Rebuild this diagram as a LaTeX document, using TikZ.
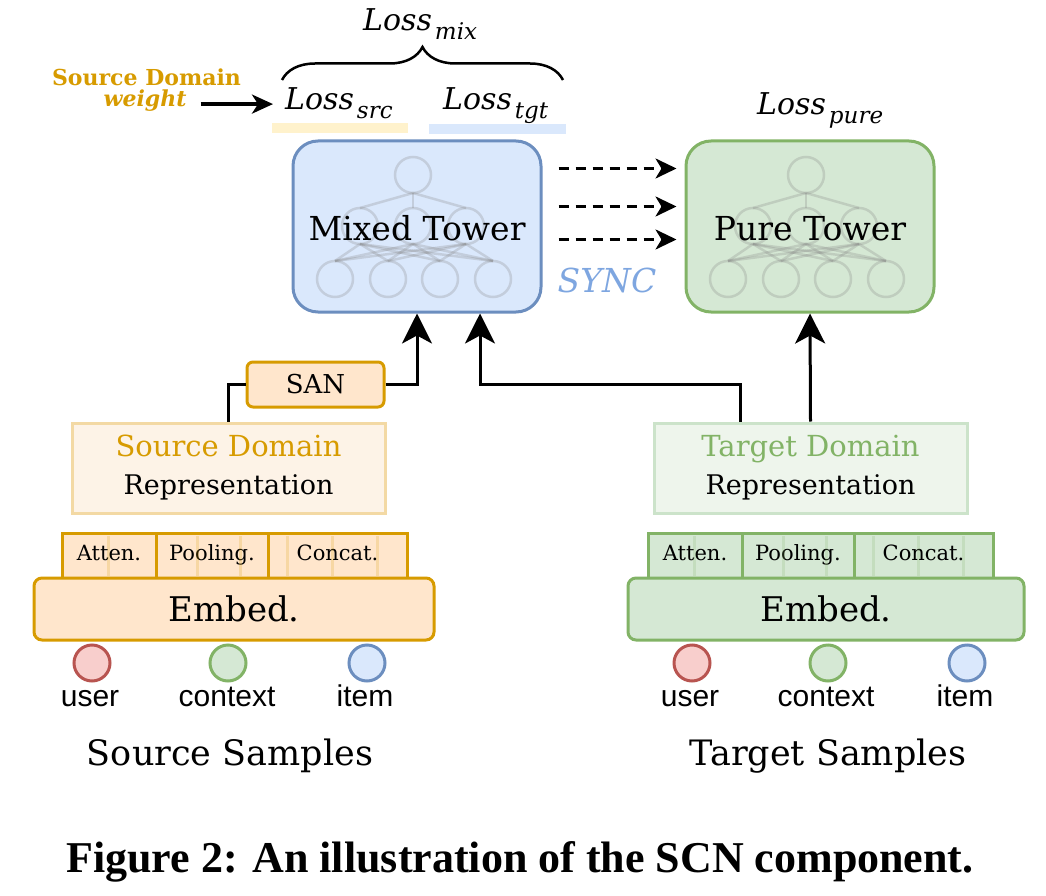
\documentclass[tikz,border=0pt]{standalone}
\usepackage{fontspec}
\setmainfont{DejaVu Serif}
\newfontfamily\sansfnt{Liberation Sans}
\newfontfamily\capfnt{Liberation Serif}
\usetikzlibrary{arrows.meta,decorations.pathreplacing,calc}
\definecolor{orgdraw}{HTML}{D79B00}
\definecolor{orgfill}{HTML}{FFE6CC}
\definecolor{grndraw}{HTML}{82B366}
\definecolor{grnfill}{HTML}{D5E8D4}
\definecolor{bluedraw}{HTML}{6C8EBF}
\definecolor{bluefill}{HTML}{DAE8FC}
\definecolor{reddraw}{HTML}{B85450}
\definecolor{redfill}{HTML}{F8CECC}
\definecolor{yelfill}{HTML}{FFF2CC}
\definecolor{syncblue}{HTML}{7EA6E0}
\definecolor{srcrepfill}{HTML}{FDF3E7}
\definecolor{srcrepdraw}{HTML}{F3D9A4}
\definecolor{tgtrepfill}{HTML}{EEF5EC}
\definecolor{tgtrepdraw}{HTML}{CCE3CA}
\newcommand\myfs[1]{\fontsize{#1}{#1}\selectfont}
\newcommand\myloss[1]{{\myfs{30}\itshape Loss}\kern3pt\raisebox{-9pt}{\myfs{23}\itshape #1}}
\newcommand\nnicon[2]{%
  \begin{scope}[shift={(#1,#2)}, nnline]
    \draw (120,34) circle[radius=18pt];
    \foreach \mx in {67,120,173} {
      \draw (\mx,85) circle[radius=18pt];
      \draw (120,52) -- (\mx,67);
      \foreach \bx in {42,95,147,200} { \draw (\mx,103) -- (\bx,120); }
    }
    \foreach \bx in {42,95,147,200} { \draw (\bx,138) circle[radius=18pt]; }
  \end{scope}}
\begin{document}
\begin{tikzpicture}[x=1pt,y=-1pt,
  nnline/.style={draw=gray, opacity=0.25, line width=2.5pt},
  tower/.style={rounded corners=25pt, line width=3pt, minimum width=248pt, minimum height=171pt, inner sep=0pt},
  towertext/.style={font=\myfs{33}, inner sep=0pt},
  repbox/.style={line width=3pt, minimum width=313pt, minimum height=90pt, align=center, inner sep=0pt, font=\fontsize{27}{38}\selectfont},
  subbox/.style={line width=3pt, minimum height=45pt, inner sep=0pt, font=\myfs{21}, text height=15pt, text depth=5pt},
  embedbox/.style={rounded corners=8pt, line width=3pt, minimum height=62pt, inner sep=0pt, font=\myfs{34}},
  circ/.style={circle, minimum size=36pt, inner sep=0pt, line width=3pt},
  samplelbl/.style={anchor=base, inner sep=0pt, font=\sansfnt\myfs{30}},
  titlelbl/.style={anchor=base, inner sep=0pt, font=\myfs{35}},
  faintorg/.style={draw=orgdraw, opacity=0.2, line width=3pt},
  faintgrn/.style={draw=grndraw, opacity=0.2, line width=3pt},
  conn/.style={line width=3pt},
  arr/.style={line width=3pt, -{Stealth[length=30pt,width=30pt,inset=8pt]}},
  dasharr/.style={line width=3pt, dash pattern=on 10pt off 7pt, -{Stealth[length=21pt,width=20pt,inset=6pt]}},
  warr/.style={line width=3.5pt, -{Stealth[length=21pt,width=19pt,inset=6pt]}},
  bar/.style={minimum height=10pt, inner sep=0pt}
  ]
\useasboundingbox (0,0) rectangle (1046,896);

% towers
\node[tower, fill=bluefill, draw=bluedraw] (mixed) at (417,226.5) {};
\node[tower, fill=grnfill, draw=grndraw] (pure) at (810,226.5) {};
\nnicon{293}{141}
\nnicon{686}{141}
\node[towertext] (mixedlbl) at ([yshift=-2pt]mixed.center) {Mixed Tower};
\node[towertext] (purelbl) at ([yshift=-2pt]pure.center) {Pure Tower};

% losses
\node[bar, fill=yelfill, minimum width=136pt] (barsrc) at (340,128) {};
\node[bar, fill=bluefill, minimum width=137pt] (bartgt) at (497.5,129) {};
\node[anchor=base west, inner sep=0pt] (lsrc) at (285,110) {\myloss{src}};
\node[anchor=base west, inner sep=0pt] (ltgt) at (443,110) {\myloss{tgt}};
\node[anchor=base west, inner sep=0pt] (lmix) at (363,31) {\myloss{mix}};
\node[anchor=base west, inner sep=0pt] (lpure) at (757,115) {\myloss{pure}};
\coordinate (brl) at (282,80);
\coordinate (brr) at (563,80);
\draw[decorate, decoration={brace, amplitude=33pt}, line width=2.5pt] (brl) -- (brr);

% source domain weight
\node[anchor=base, inner sep=0pt, font=\myfs{22}\bfseries, text=orgdraw] (sdlbl) at (146.5,86) {Source Domain};
\node[anchor=base, inner sep=0pt, font=\myfs{22}\bfseries\itshape, text=orgdraw] (wlbl) at (145,107) {weight};
\draw[warr] ([xshift=14pt,yshift=-3pt]wlbl.east) -- ([xshift=-12pt,yshift=-3pt]wlbl.east -| lsrc.west);

% sync
\foreach \dy in {29,67,100}
  \draw[dasharr] ([shift={(16pt,-\dy pt)}]mixed.north east) -- ([shift={(-8pt,-\dy pt)}]pure.north west);
\node[anchor=base, inner sep=0pt, font=\myfs{33}\itshape, text=syncblue] (sync) at (607,292) {SYNC};

% SAN
\node[rounded corners=6pt, line width=3pt, fill=orgfill, draw=orgdraw, minimum width=137pt, minimum height=45pt, inner sep=0pt, font=\myfs{26}] (san) at (315.5,384.5) {SAN};

% representations
\node[repbox, fill=srcrepfill, draw=srcrepdraw] (srcrep) at (228.5,468) {{\myfs{29}\color{orgdraw}Source Domain}\\Representation};
\node[repbox, fill=tgtrepfill, draw=tgtrepdraw] (tgtrep) at (810.5,468) {{\myfs{29}\color{grndraw}Target Domain}\\Representation};

% connectors
\coordinate (mixin2) at ([xshift=63pt]mixed.south);
\coordinate (tgtout) at ([xshift=-70.5pt]tgtrep.north);
\draw[conn] (srcrep.north) |- (san.west);
\draw[arr] (san.east) -| (mixed.south);
\draw[arr] (tgtout) |- (san.west -| mixin2) -- (mixin2);
\draw[arr] (tgtrep.north) -- (pure.south);

% source operators
\node[subbox, minimum width=94pt, fill=orgfill, draw=orgdraw] (satt) at (109,555.5) {Atten.};
\node[subbox, minimum width=112pt, fill=orgfill, draw=orgdraw] (spool) at (212,555.5) {Pooling.};
\node[subbox, minimum width=139pt, fill=orgfill, draw=orgdraw] (scon) at (337.5,555.5) {Concat.};
\foreach \x in {108,197,240,287,332,377} \draw[faintorg] (\x,536) -- (\x,576);
\node[embedbox, minimum width=400pt, fill=orgfill, draw=orgdraw] (semb) at (234,609) {Embed.};

% target operators
\node[subbox, minimum width=94pt, fill=grnfill, draw=grndraw] (tatt) at (695,555.5) {Atten.};
\node[subbox, minimum width=112pt, fill=grnfill, draw=grndraw] (tpool) at (798,555.5) {Pooling.};
\node[subbox, minimum width=139pt, fill=grnfill, draw=grndraw] (tcon) at (923.5,555.5) {Concat.};
\foreach \x in {694,783,826,873,918,963} \draw[faintgrn] (\x,536) -- (\x,576);
\node[embedbox, minimum width=396pt, fill=grnfill, draw=grndraw] (temb) at (826,609) {Embed.};

% samples
\node[circ, fill=redfill, draw=reddraw] (suser) at (92,663) {};
\node[circ, fill=grnfill, draw=grndraw] (sctx) at (228,663) {};
\node[circ, fill=bluefill, draw=bluedraw] (sitem) at (367,663) {};
\node[samplelbl] (suserl) at (90,706) {user};
\node[samplelbl] (sctxl) at (227,706) {context};
\node[samplelbl] (siteml) at (365,706) {item};
\node[circ, fill=redfill, draw=reddraw] (tuser) at (692,663) {};
\node[circ, fill=grnfill, draw=grndraw] (tctx) at (828,663) {};
\node[circ, fill=bluefill, draw=bluedraw] (titem) at (967,663) {};
\node[samplelbl] (tuserl) at (690,706) {user};
\node[samplelbl] (tctxl) at (826,706) {context};
\node[samplelbl] (titeml) at (965,706) {item};
\node[titlelbl] (ssamp) at (230,765) {Source Samples};
\node[titlelbl] (tsamp) at (828,765) {Target Samples};

% caption
\node[anchor=base, inner sep=0pt, font=\capfnt\bfseries\myfs{44}] (cap) at (520,872) {Figure 2: An illustration of the SCN component.};
\end{tikzpicture}
\end{document}
